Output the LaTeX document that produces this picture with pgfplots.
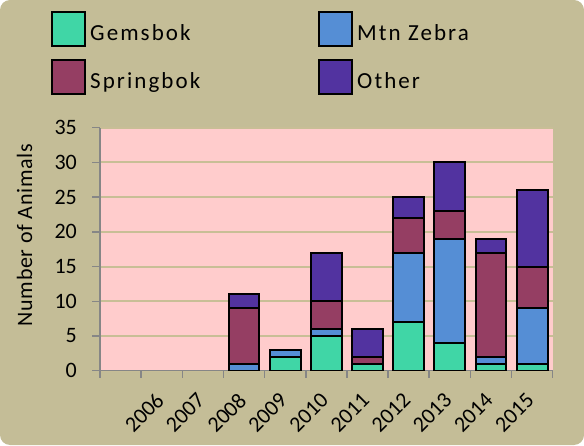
\documentclass[border=0pt]{standalone}
\usepackage{fontspec}
\setmainfont{Carlito}
\newfontfamily\lspaced{Carlito}[LetterSpace=9]
\newfontfamily\yspaced{Carlito}[LetterSpace=3]
\usepackage{pgfplots}
\pgfplotsset{compat=1.18}
\definecolor{bgtan}{RGB}{196,189,151}
\definecolor{plotpink}{RGB}{255,204,204}
\definecolor{gridtan}{RGB}{200,190,150}
\definecolor{axgray}{RGB}{134,134,134}
\definecolor{gems}{RGB}{64,214,166}
\definecolor{zebra}{RGB}{85,142,213}
\definecolor{springbok}{RGB}{149,62,99}
\definecolor{other}{RGB}{82,51,160}
\begin{document}
\begin{tikzpicture}
\fill[bgtan, rounded corners=10pt] (0,0) rectangle (584pt,445pt);
\begin{axis}[
  at={(100pt,74.3pt)}, anchor=south west,
  scale only axis, width=452.7pt, height=243pt,
  ybar stacked, bar width=0.75,
  xmin=-0.5, xmax=10.5, ymin=0, ymax=35,
  xtick={1,...,10},
  xticklabels={2006,2007,2008,2009,2010,2011,2012,2013,2014,2015},
  minor xtick={-0.5,0.5,...,10.5},
  ytick={0,5,...,35},
  axis background/.style={fill=plotpink},
  axis x line*=bottom, axis y line*=left,
  axis line style={-, draw=axgray, line width=1.5pt},
  tick align=outside,
  major tick length=8pt, minor tick length=7pt,
  major x tick style={draw=none},
  minor x tick style={draw=axgray, line width=1.5pt},
  major y tick style={draw=axgray, line width=1.5pt},
  ymajorgrids, major grid style={draw=gridtan, line width=2pt},
  /pgf/number format/assume math mode=true,
  ticklabel style={font=\fontsize{22}{26}\selectfont},
  yticklabel style={inner sep=0pt, xshift=-15pt},
  xticklabel style={xshift=-7pt, yshift=-12.7pt, rotate=45, anchor=north east, inner sep=0pt},
  ylabel={Number of Animals},
  ylabel style={font=\yspaced\fontsize{22}{26}\selectfont, at={(axis description cs:-0.150,0.558)}, anchor=base, inner sep=0pt},
  legend columns=2,
  legend cell align=left,
  legend style={at={(axis description cs:-0.1082,1.480)}, anchor=north west, draw=none, fill=none, inner sep=0pt, row sep=12pt, column sep=4pt, font=\lspaced\fontsize{23}{27}\selectfont, nodes={inner sep=0pt}},
  every axis plot/.append style={draw=black, line width=2pt},
  every axis plot post/.append style={legend image code/.code={\draw[##1,draw=black,line width=2pt] (0pt,-12.7pt) rectangle (33pt,21.3pt);}},
]
\addplot[fill=gems] coordinates {(3,0) (4,2) (5,5) (6,1) (7,7) (8,4) (9,1) (10,1)};
\addlegendentry{\makebox[224pt][l]{Gemsbok}}
\addplot[fill=zebra] coordinates {(3,1) (4,1) (5,1) (6,0) (7,10) (8,15) (9,1) (10,8)};
\addlegendentry{Mtn Zebra}
\addplot[fill=springbok] coordinates {(3,8) (4,0) (5,4) (6,1) (7,5) (8,4) (9,15) (10,6)};
\addlegendentry{\makebox[224pt][l]{Springbok}}
\addplot[fill=other] coordinates {(3,2) (4,0) (5,7) (6,4) (7,3) (8,7) (9,2) (10,11)};
\addlegendentry{Other}
\end{axis}
\pgfresetboundingbox
\useasboundingbox (0,0) rectangle (584pt,445pt);
\end{tikzpicture}
\end{document}
